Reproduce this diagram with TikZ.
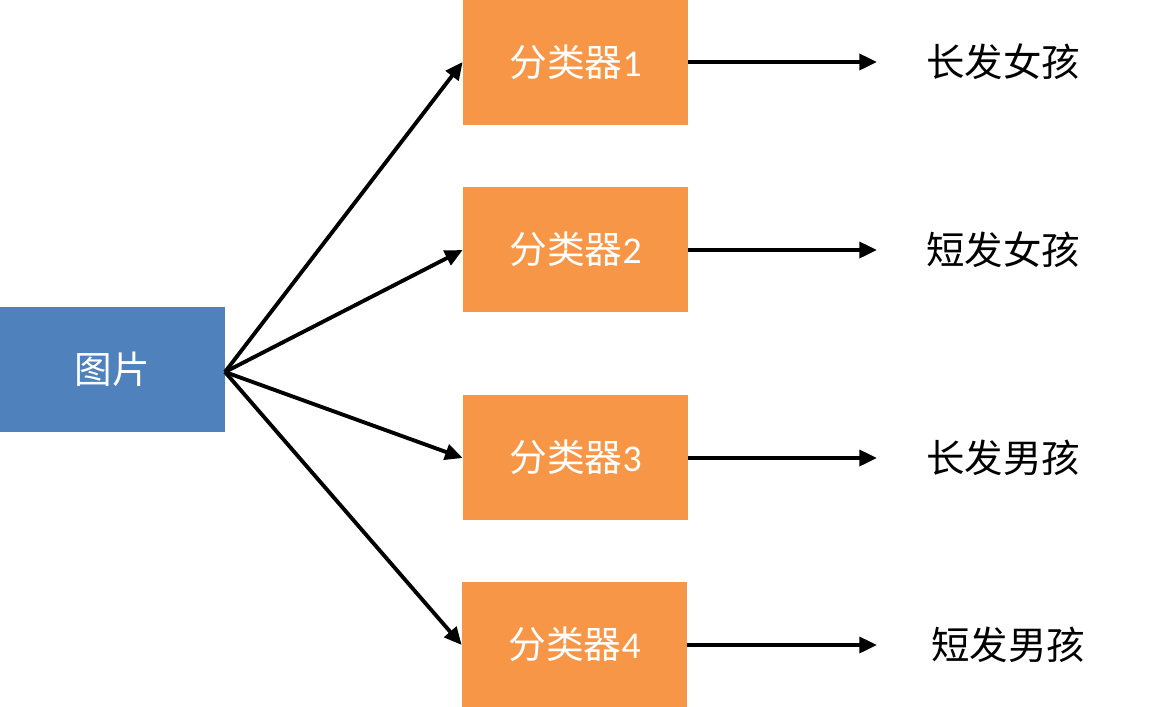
\documentclass[tikz,border=0pt]{standalone}
\usepackage{fontspec}
\newfontfamily\cjk{Noto Sans CJK SC}
\setmainfont{Carlito}
\usetikzlibrary{arrows.meta}
\definecolor{boxblue}{HTML}{4F81BD}
\definecolor{boxorange}{HTML}{F79646}
\tikzset{
  imgbox/.style={fill=boxblue,draw=none,minimum width=4.5cm,minimum height=2.5cm,inner sep=0pt,text=white,font=\cjk\fontsize{21.4}{24}\selectfont},
  clsbox/.style={fill=boxorange,draw=none,minimum width=4.5cm,minimum height=2.5cm,inner sep=0pt,text=white,font=\fontsize{21.5}{24}\selectfont},
  outlabel/.style={inner sep=0pt,font=\cjk\fontsize{21.9}{26}\selectfont},
  conn/.style={line width=2.2pt,-{Triangle[length=10pt,width=9pt]}}
}
\begin{document}
\begin{tikzpicture}[x=0.02cm,y=-0.02cm]
\useasboundingbox (0,0) rectangle (1154,707);
\node[imgbox] (img) at (112.5,369.5) {图片};
\node[clsbox] (c1) at (575.5,62.5) {{\cjk 分类器}1};
\node[clsbox] (c2) at (575.5,249.5) {{\cjk 分类器}2};
\node[clsbox] (c3) at (575.5,457.5) {{\cjk 分类器}3};
\node[clsbox] (c4) at (574.5,644.5) {{\cjk 分类器}4};
\coordinate (src) at (225,372);
\coordinate (e1) at (877,62);
\coordinate (e2) at (877,250);
\coordinate (e3) at (877,458);
\coordinate (e4) at (877,645);
\node[outlabel] (l1) at (1003,62) {长发女孩};
\node[outlabel] (l2) at (1003,250) {短发女孩};
\node[outlabel] (l3) at (1003,458) {长发男孩};
\node[outlabel] (l4) at (1008,645) {短发男孩};
\draw[conn] (src) -- (c1.west|-0,62);
\draw[conn] (src) -- (c2.west|-0,250);
\draw[conn] (src) -- (c3.west|-0,458);
\draw[conn] (src) -- (c4.west|-0,645);
\draw[conn] (c1.east|-0,62) -- (e1);
\draw[conn] (c2.east|-0,250) -- (e2);
\draw[conn] (c3.east|-0,458) -- (e3);
\draw[conn] (c4.east|-0,645) -- (e4);
\end{tikzpicture}
\end{document}
